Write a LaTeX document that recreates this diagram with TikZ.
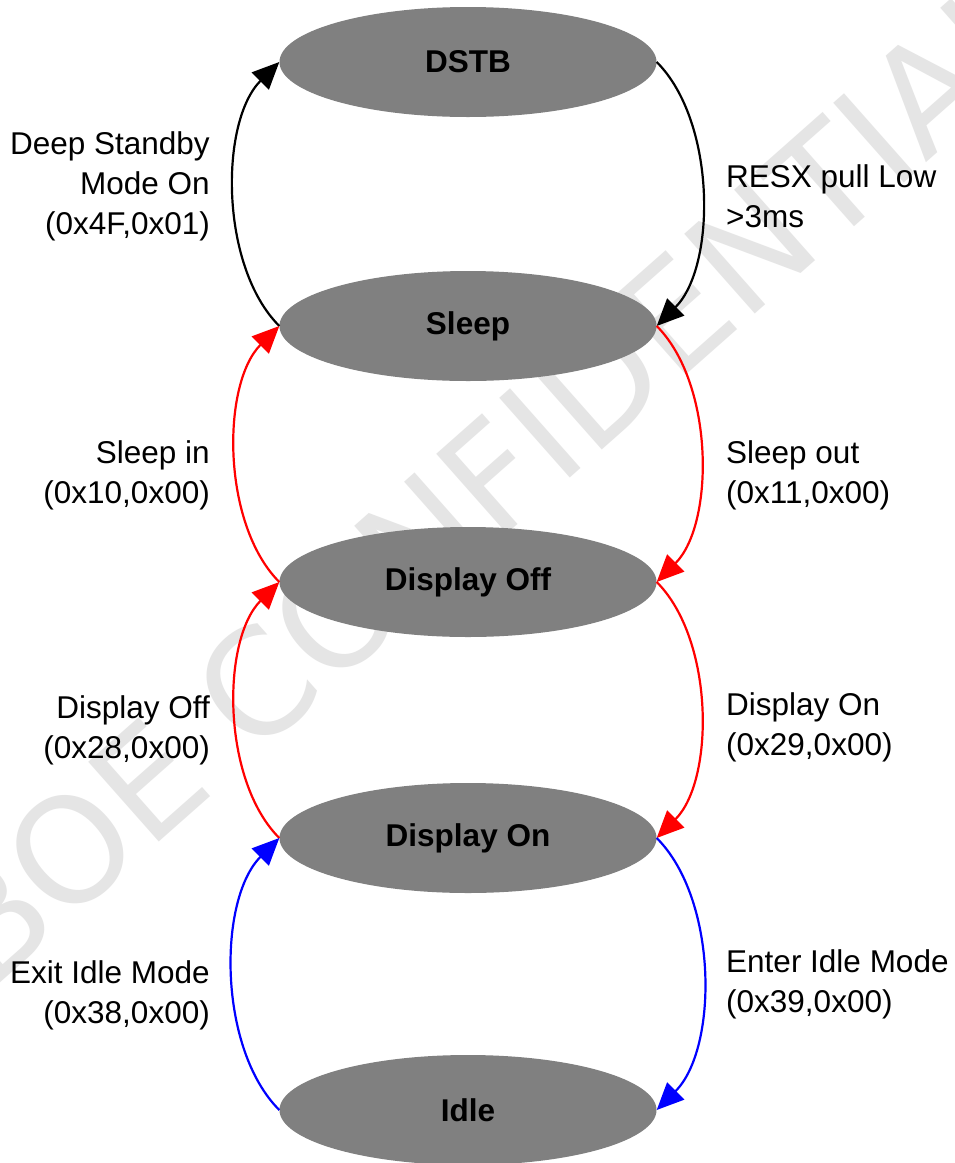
\documentclass[tikz,border=0pt]{standalone}
\usepackage{fontspec}
\setmainfont{Liberation Sans}
\newfontfamily\wmfont{DejaVu Sans}
\usetikzlibrary{shapes.geometric,arrows.meta}
\begin{document}
\begin{tikzpicture}[x=1pt,y=1pt,
  state/.style={ellipse,fill=gray,draw=none,minimum width=377pt,minimum height=110pt,inner sep=0pt,
    font=\fontsize{31.5}{38}\selectfont\bfseries},
  lbl/.style={inner sep=0pt,font=\fontsize{31.5}{40}\selectfont},
  lleft/.style={lbl,anchor=east,align=right},
  lright/.style={lbl,anchor=west,align=left},
  conn/.style={line width=2.2pt,-{Triangle[length=27pt,width=24pt]}},
  blk/.style={conn,draw=black},
  redc/.style={conn,draw=red},
  bluec/.style={conn,draw=blue}]
\useasboundingbox (0,0) rectangle (955,-1163);
\fill[white] (0,0) rectangle (955,-1163);
\begin{scope}
  \clip (0,0) rectangle (955,-1163);
  \node[rotate=41.5,text=black!10,font=\fontsize{146}{150}\selectfont\wmfont,inner sep=0pt] (wm) at (490,-478) {BOE CONFIDENTIAL};
\end{scope}
\node[state] (dstb) at (468,-62) {DSTB};
\node[state] (sleep) at (468,-326) {Sleep};
\node[state] (doff) at (468,-582) {Display Off};
\node[state] (don) at (468,-838) {Display On};
\node[state] (idle) at (468,-1110) {Idle};
\draw[blk] (sleep.west) to[out=135,in=225,looseness=0.82] (dstb.west);
\draw[blk] (dstb.east) to[out=-45,in=45,looseness=0.82] (sleep.east);
\draw[redc] (doff.west) to[out=135,in=225,looseness=0.82] (sleep.west);
\draw[redc] (sleep.east) to[out=-45,in=45,looseness=0.82] (doff.east);
\draw[redc] (don.west) to[out=135,in=225,looseness=0.82] (doff.west);
\draw[redc] (doff.east) to[out=-45,in=45,looseness=0.82] (don.east);
\draw[bluec] (idle.west) to[out=135,in=225,looseness=0.82] (don.west);
\draw[bluec] (don.east) to[out=-45,in=45,looseness=0.82] (idle.east);
\node[lleft] (l1) at (210,-186) {Deep Standby\\Mode On\\(0x4F,0x01)};
\node[lright] (r1) at (726,-196) {RESX pull Low\\>3ms};
\node[lleft] (l2) at (210,-475) {Sleep in\\(0x10,0x00)};
\node[lright] (r2) at (726,-475) {Sleep out\\(0x11,0x00)};
\node[lleft] (l3) at (210,-730) {Display Off\\(0x28,0x00)};
\node[lright] (r3) at (726,-727) {Display On\\(0x29,0x00)};
\node[lleft] (l4) at (210,-995) {Exit Idle Mode\\(0x38,0x00)};
\node[lright] (r4) at (726,-984) {Enter Idle Mode\\(0x39,0x00)};
\end{tikzpicture}
\end{document}
